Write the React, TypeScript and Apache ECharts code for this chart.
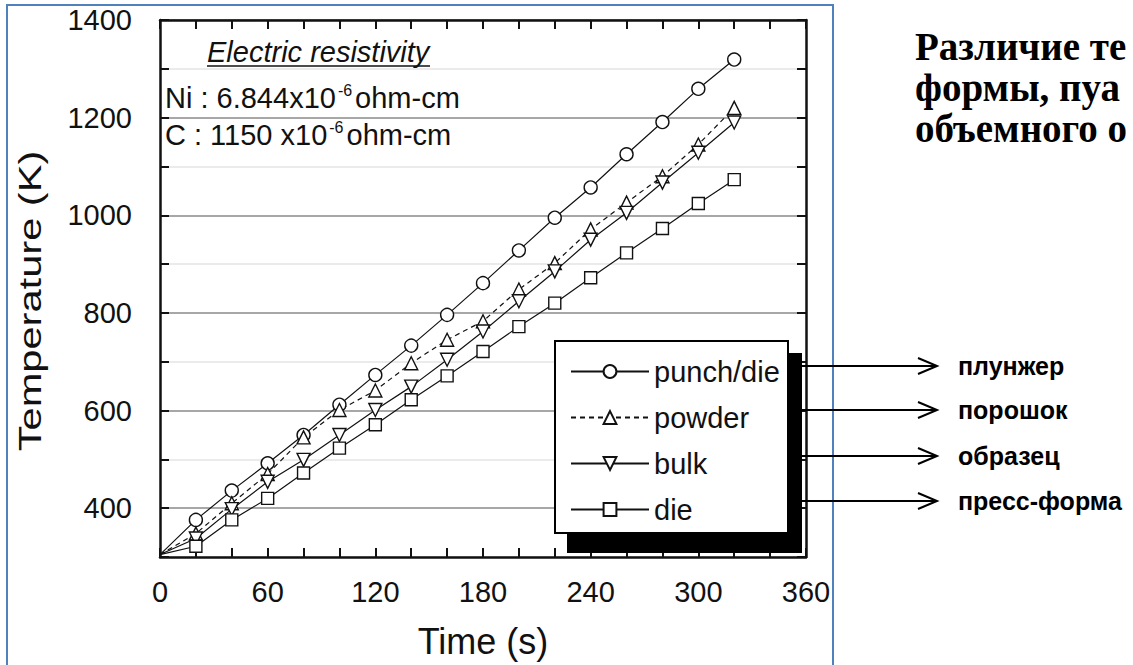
import React, { useEffect, useRef } from "react";
import * as echarts from "echarts";

// ---- data ----
const times = [0, 20, 40, 60, 80, 100, 120, 140, 160, 180, 200, 220, 240, 260, 280, 300, 320];
const punchDie = [305, 376, 436, 492, 550, 612, 673, 733, 796, 861, 928, 995, 1057, 1125, 1191, 1259, 1319];
const powder = [305, 348, 410, 470, 545, 601, 641, 697, 745, 783, 848, 902, 971, 1026, 1080, 1145, 1220];
const bulk = [305, 338, 398, 454, 499, 550, 601, 649, 704, 762, 824, 885, 950, 1005, 1067, 1128, 1190];
const die = [305, 322, 376, 420, 472, 523, 571, 622, 671, 721, 772, 820, 872, 923, 973, 1024, 1073];

const seriesNames = ["punch/die", "powder", "bulk", "die"];
const xTickLabels = [0, 60, 120, 180, 240, 300, 360];
const yTickLabels = [400, 600, 800, 1000, 1200, 1400];
const xTitle = "Time (s)";
const yTitle = "Temperature (K)";
const noteTitle = "Electric resistivity";
const noteNi = ["Ni : 6.844x10", "-6", "ohm-cm"];
const noteC = ["C : 1150 x10", "-6", "ohm-cm"];
const ruLabels = ["плунжер", "порошок", "образец", "пресс-форма"];
const ruTitle = ["Различие те", "формы, пуа", "объемного о"];

const SANS = "'Liberation Sans', Arial, Helvetica, sans-serif";
const SERIF = "'Liberation Serif', 'Times New Roman', serif";
const INK = "#111";

function makeSeries(name: string, vals: number[], symbol: string, dashed: boolean, rotate: number, size: number) {
  return {
    type: "line",
    name,
    xAxisIndex: 0,
    yAxisIndex: 0,
    data: times.map((t, i) => (i === 0 ? { value: [t, vals[i]], symbol: "none" } : [t, vals[i]])),
    symbol,
    symbolSize: size,
    symbolRotate: rotate,
    showAllSymbol: true,
    lineStyle: { color: INK, width: 1.2, type: dashed ? [5, 4] : "solid" },
    itemStyle: { color: "#fff", borderColor: INK, borderWidth: 1.4 },
    emphasis: { disabled: true },
    z: 3,
  };
}

export default function App() {
  const ref = useRef<HTMLDivElement>(null);
  useEffect(() => {
    document.body.style.margin = "0";
    const chart = echarts.init(ref.current as HTMLDivElement, null, { renderer: "svg" });

    const axisLine = { show: true, onZero: false, lineStyle: { color: INK, width: 2.5 } };
    const axisTick = { show: true, inside: true, length: 9, lineStyle: { color: INK, width: 2 } };

    const arrowYs = [366, 410, 456, 501];
    const graphics: any[] = [
      {
        type: "rect",
        silent: true,
        z: 0,
        shape: { x: 7, y: 5, width: 826, height: 700 },
        style: { fill: "none", stroke: "#4f81bd", lineWidth: 2 },
      },
      // y axis title (stretched along its length like the reference)
      {
        type: "text",
        silent: true,
        z: 6,
        x: 30,
        y: 301,
        rotation: Math.PI / 2,
        scaleX: 1.3,
        style: {
          text: yTitle,
          font: `32px ${SANS}`,
          fill: INK,
          align: "center",
          verticalAlign: "middle",
        },
      },
      // legend shadow and box
      {
        type: "rect",
        silent: true,
        z: 4,
        shape: { x: 567, y: 353, width: 235, height: 200 },
        style: { fill: "#000" },
      },
      {
        type: "rect",
        silent: true,
        z: 5,
        shape: { x: 555, y: 341, width: 233, height: 192 },
        style: { fill: "#fff", stroke: "#000", lineWidth: 2 },
      },
      // annotation
      {
        type: "text",
        silent: true,
        z: 6,
        x: 207,
        y: 52,
        style: {
          text: noteTitle,
          font: `italic 29px ${SANS}`,
          fill: INK,
          verticalAlign: "middle",
        },
      },
      {
        type: "line",
        silent: true,
        z: 6,
        shape: { x1: 207, y1: 66, x2: 430, y2: 66 },
        style: { stroke: INK, lineWidth: 1.5 },
      },
      ...[noteNi, noteC].map((parts, i) => ({
        type: "text",
        silent: true,
        z: 6,
        x: 165,
        y: [97, 134][i],
        style: {
          text: `{a|${parts[0]}}{s|${parts[1]}}{a|${parts[2]}}`,
          verticalAlign: "middle",
          rich: {
            a: { fontSize: 29, fontFamily: SANS, fill: INK, lineHeight: 30, verticalAlign: "bottom" },
            s: { fontSize: 16, fontFamily: SANS, fill: INK, lineHeight: 30, verticalAlign: "top", padding: [0, 3, 0, 2] },
          },
        },
      })),
      // arrows
      ...arrowYs.flatMap((y) => [
        {
          type: "line",
          silent: true,
          z: 6,
          shape: { x1: 800, y1: y, x2: 936, y2: y },
          style: { stroke: "#000", lineWidth: 2 },
        },
        {
          type: "polyline",
          silent: true,
          z: 6,
          shape: { points: [[918, y - 8], [937, y], [918, y + 8]] },
          style: { stroke: "#000", lineWidth: 2, fill: "none" },
        },
      ]),
      ...ruLabels.map((t, i) => ({
        type: "text",
        silent: true,
        z: 6,
        x: 958,
        y: arrowYs[i],
        style: { text: t, font: `bold 25px ${SANS}`, fill: "#000", verticalAlign: "middle" },
      })),
      ...ruTitle.map((t, i) => ({
        type: "text",
        silent: true,
        z: 6,
        x: 915,
        y: [46, 87, 128][i],
        style: { text: t, font: `bold 39px ${SERIF}`, fill: "#000", verticalAlign: "middle" },
      })),
    ];

    const option: any = {
      animation: false,
      backgroundColor: "#fff",
      textStyle: { fontFamily: SANS },
      grid: { left: 160, right: 327, top: 20, bottom: 108, containLabel: false },
      legend: {
        orient: "vertical",
        left: 565,
        top: 352,
        itemWidth: 78,
        itemHeight: 16,
        itemGap: 17,
        selectedMode: false,
        z: 8,
        data: seriesNames,
        textStyle: { fontSize: 29, color: INK, fontFamily: SANS },
      },
      xAxis: [
        {
          type: "value",
          position: "bottom",
          min: 0,
          max: 360,
          interval: 20,
          axisLine,
          axisTick,
          splitLine: { show: false },
          axisLabel: {
            fontSize: 29,
            color: INK,
            fontFamily: SANS,
            margin: 20,
            formatter: (v: number) => (xTickLabels.includes(v) ? String(v) : ""),
          },
          name: xTitle,
          nameLocation: "middle",
          nameGap: 66,
          nameTextStyle: { fontSize: 36, color: INK, fontFamily: SANS },
        },
        {
          type: "value",
          position: "top",
          min: 0,
          max: 360,
          interval: 20,
          axisLine,
          axisTick,
          splitLine: { show: false },
          axisLabel: { show: false },
        },
      ],
      yAxis: [
        {
          type: "value",
          position: "left",
          min: 300,
          max: 1400,
          interval: 100,
          axisLine,
          axisTick,
          splitLine: {
            show: true,
            lineStyle: { color: ["#e4e4e4", "#8a8a8a"], width: 1.5 },
          },
          axisLabel: {
            fontSize: 29,
            color: INK,
            fontFamily: SANS,
            margin: 28,
            formatter: (v: number) => (yTickLabels.includes(v) ? String(v) : ""),
          },
        },
        {
          type: "value",
          position: "right",
          min: 300,
          max: 1400,
          interval: 100,
          axisLine,
          axisTick,
          splitLine: { show: false },
          axisLabel: { show: false },
        },
      ],
      series: [
        makeSeries(seriesNames[0], punchDie, "circle", false, 0, 13),
        makeSeries(seriesNames[1], powder, "triangle", true, 0, 13),
        makeSeries(seriesNames[2], bulk, "triangle", false, 180, 13),
        makeSeries(seriesNames[3], die, "rect", false, 0, 12),
      ],
      graphic: graphics,
    };

    chart.setOption(option);
    return () => chart.dispose();
  }, []);

  return (
    <div
      ref={ref}
      style={{ position: "absolute", left: 0, top: 0, width: 1133, height: 665, background: "#fff" }}
    />
  );
}
